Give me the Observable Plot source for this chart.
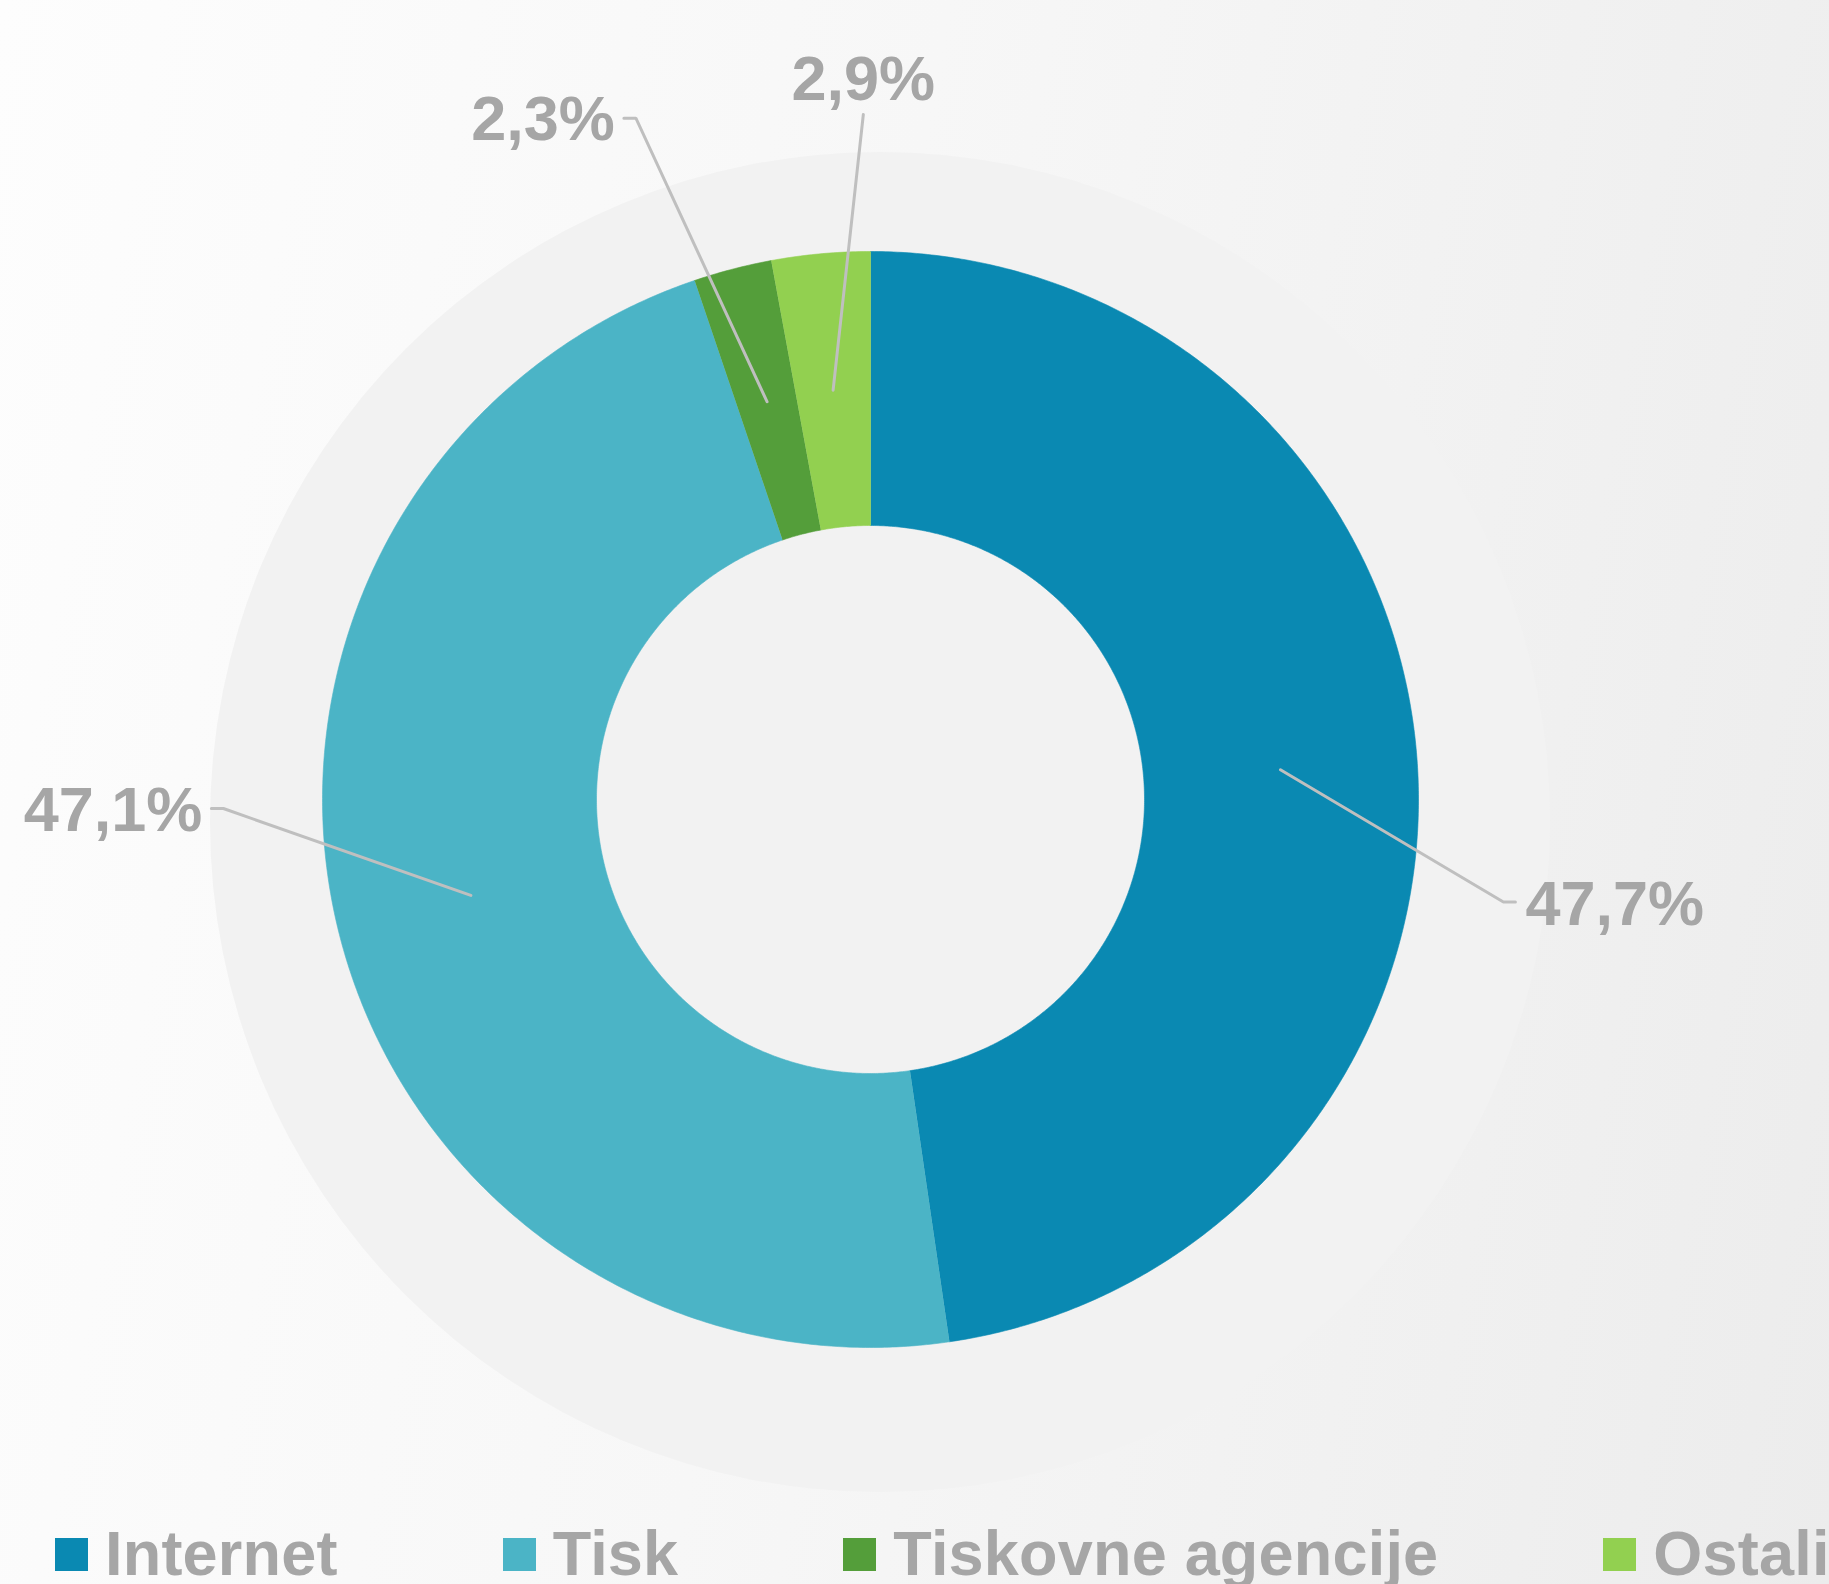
<!DOCTYPE html>
<html><head><meta charset="utf-8">
<script src="https://cdn.jsdelivr.net/npm/d3@7"></script>
<script src="https://cdn.jsdelivr.net/npm/@observablehq/plot@0.6"></script>
<style>
html,body{margin:0;padding:0;}
body{width:1829px;height:1584px;overflow:hidden;position:relative;background:linear-gradient(100deg,#fdfdfd 0%,#f7f7f7 45%,#ececec 100%);font-family:"Liberation Sans",Arial,sans-serif;}
#ring{position:absolute;left:210px;top:152px;width:1340px;height:1340px;border-radius:50%;background:#f2f2f2;}
#chart{position:absolute;left:0;top:0;}
#legend{position:absolute;left:55px;top:1522px;display:flex;gap:165px;white-space:nowrap;}
.item{display:flex;align-items:flex-start;line-height:63px;font-size:63px;font-weight:bold;color:#a6a6a6;letter-spacing:0.2px;}
.sw{width:33px;height:33px;margin-top:16px;margin-right:17px;flex:none;}
</style></head><body>
<div id="ring"></div><div id="chart"></div><div id="legend"></div>
<script>
const categories = ["Internet", "Tisk", "Tiskovne agencije", "Ostali"];
const values = [47.7, 47.1, 2.3, 2.9];
const colors = ["#0a89b2", "#4bb4c6", "#549e3a", "#92d050"];

// label layout (leader elbow in polar terms: degrees clockwise from top, radius as fraction of outer radius)
const labelAngle = [99.2, 269.2, 341.0, 359.4];
const labelRadius = [1.170, 1.181, 1.315, 1.250];
const labelSide = ["right", "left", "left", "top"];

const W = 1829, H = 1500, CX = 870, CY = 799, R = 548, INNER = 0.5;
const total = d3.sum(values);
const rad = d => d * Math.PI / 180;
const pt = (r, a) => [r * Math.sin(rad(a)), r * Math.cos(rad(a))];

let cum = 0;
const slices = categories.map((c, i) => {
  const a0 = cum / total * 360; cum += values[i];
  const a1 = cum / total * 360;
  return {cat: c, a0, a1, mid: (a0 + a1) / 2, value: values[i], i};
});

const slicePts = [];
for (const s of slices) {
  const n = Math.max(4, Math.ceil((s.a1 - s.a0) / 0.4));
  for (let k = 0; k <= n; k++) { const a = s.a0 + (s.a1 - s.a0) * k / n; const [x, y] = pt(1, a); slicePts.push({cat: s.cat, x, y}); }
  for (let k = n; k >= 0; k--) { const a = s.a0 + (s.a1 - s.a0) * k / n; const [x, y] = pt(INNER, a); slicePts.push({cat: s.cat, x, y}); }
}

const tick = 12 / R;
const leaderPts = [];
const labels = [];
for (const s of slices) {
  const [x0, y0] = pt((1 + INNER) / 2, s.mid);
  const [x1, y1] = pt(labelRadius[s.i], labelAngle[s.i]);
  leaderPts.push({cat: s.cat, x: x0, y: y0}, {cat: s.cat, x: x1, y: y1});
  let x2 = x1;
  if (labelSide[s.i] === "left") { x2 = x1 - tick; leaderPts.push({cat: s.cat, x: x2, y: y1}); }
  if (labelSide[s.i] === "right") { x2 = x1 + tick; leaderPts.push({cat: s.cat, x: x2, y: y1}); }
  labels.push({side: labelSide[s.i], x: x2, y: y1, text: s.value.toFixed(1).replace(".", ",") + "%"});
}

const textOpts = {x: "x", y: "y", text: "text", fontSize: 63, fontWeight: "bold", fill: "#a6a6a6", fontFamily: "Liberation Sans, Arial, sans-serif"};

const chart = Plot.plot({
  width: W, height: H, margin: 0,
  x: {domain: [-CX / R, (W - CX) / R], axis: null},
  y: {domain: [-(H - CY) / R, CY / R], axis: null},
  color: {domain: categories, range: colors},
  style: {background: "transparent", overflow: "visible"},
  marks: [
    Plot.line(slicePts, {x: "x", y: "y", z: "cat", fill: "cat", stroke: "cat", strokeWidth: 0.6}),
    Plot.line(leaderPts, {x: "x", y: "y", z: "cat", stroke: "#bfbfbf", strokeWidth: 3, strokeLinejoin: "miter"}),
    Plot.text(labels.filter(d => d.side === "right"), {...textOpts, textAnchor: "start", dx: 10, dy: 3}),
    Plot.text(labels.filter(d => d.side === "left"), {...textOpts, textAnchor: "end", dx: -9, dy: 2}),
    Plot.text(labels.filter(d => d.side === "top"), {...textOpts, textAnchor: "middle", dy: -35})
  ]
});
document.getElementById("chart").appendChild(chart);

const legend = d3.select("#legend");
categories.forEach((c, i) => {
  const it = legend.append("div").attr("class", "item");
  it.append("div").attr("class", "sw").style("background", colors[i]);
  it.append("span").text(c);
});
</script>
</body></html>
